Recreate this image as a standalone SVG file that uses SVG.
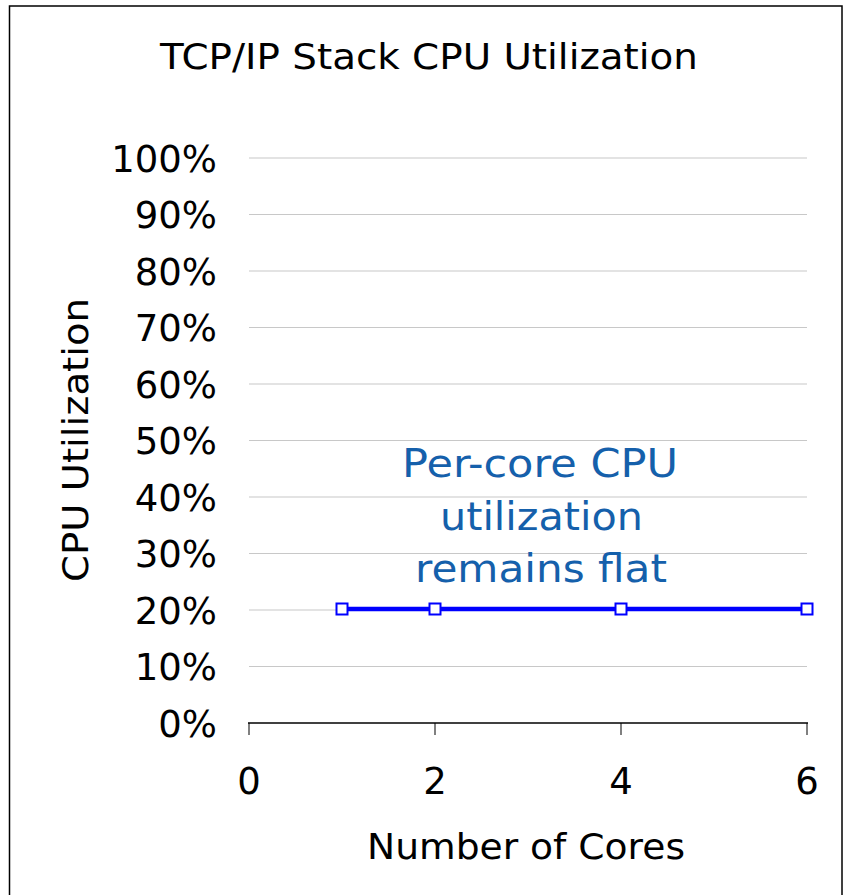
<svg xmlns="http://www.w3.org/2000/svg" width="844" height="895" viewBox="0 0 844 895">
<style>
  text { font-family: "DejaVu Sans", Verdana, sans-serif; fill: #000; }
  .ylab { font-size: 37px; text-anchor: end; }
  .xlab { font-size: 37px; text-anchor: middle; }
  .grid { stroke: #c8c8c8; stroke-width: 1.2; }
  .tick { stroke: #808080; stroke-width: 2; }
  .note { font-size: 39px; fill: #1560ab; text-anchor: middle; }
  .mk { fill: #fff; stroke: #0000ff; stroke-width: 2; }
</style>
<rect x="0" y="0" width="844" height="895" fill="#fff"/>
<rect x="9.5" y="6" width="832.5" height="900" fill="none" stroke="#000" stroke-width="1.5"/>
<g id="title">
  <text x="429" y="69" font-size="35" text-anchor="middle" textLength="538" lengthAdjust="spacingAndGlyphs">TCP/IP Stack CPU Utilization</text>
</g>
<g id="grid">
  <line class="grid" x1="249" y1="158" x2="807" y2="158"/>
  <line class="grid" x1="249" y1="214.5" x2="807" y2="214.5"/>
  <line class="grid" x1="249" y1="271" x2="807" y2="271"/>
  <line class="grid" x1="249" y1="327.5" x2="807" y2="327.5"/>
  <line class="grid" x1="249" y1="384" x2="807" y2="384"/>
  <line class="grid" x1="249" y1="440.5" x2="807" y2="440.5"/>
  <line class="grid" x1="249" y1="497" x2="807" y2="497"/>
  <line class="grid" x1="249" y1="553.5" x2="807" y2="553.5"/>
  <line class="grid" x1="249" y1="610" x2="807" y2="610"/>
  <line class="grid" x1="249" y1="666.5" x2="807" y2="666.5"/>
</g>
<g id="axes">
  <line class="tick" x1="249" y1="723" x2="249" y2="735"/>
  <line class="tick" x1="435" y1="723" x2="435" y2="735"/>
  <line class="tick" x1="621" y1="723" x2="621" y2="735"/>
  <line class="tick" x1="807" y1="723" x2="807" y2="735"/>
  <line x1="248" y1="723" x2="808" y2="723" stroke="#000" stroke-width="1.5"/>
</g>
<g id="y-labels">
  <text class="ylab" x="217" y="171.5">100%</text>
  <text class="ylab" x="217" y="228">90%</text>
  <text class="ylab" x="217" y="284.5">80%</text>
  <text class="ylab" x="217" y="341">70%</text>
  <text class="ylab" x="217" y="397.5">60%</text>
  <text class="ylab" x="217" y="454">50%</text>
  <text class="ylab" x="217" y="510.5">40%</text>
  <text class="ylab" x="217" y="567">30%</text>
  <text class="ylab" x="217" y="623.5">20%</text>
  <text class="ylab" x="217" y="680">10%</text>
  <text class="ylab" x="217" y="736.5">0%</text>
</g>
<g id="x-labels">
  <text class="xlab" x="249" y="794">0</text>
  <text class="xlab" x="435" y="794">2</text>
  <text class="xlab" x="621" y="794">4</text>
  <text class="xlab" x="807" y="794">6</text>
</g>
<g id="axis-titles">
  <text x="526" y="859" font-size="36" text-anchor="middle" textLength="318" lengthAdjust="spacingAndGlyphs">Number of Cores</text>
  <text transform="translate(88,440) rotate(-90)" x="0" y="0" font-size="36" text-anchor="middle" textLength="284" lengthAdjust="spacingAndGlyphs">CPU Utilization</text>
</g>
<g id="series">
  <polyline points="342,609 435,609 621,609 807,609" fill="none" stroke="#0000ff" stroke-width="4.5"/>
  <rect class="mk" x="336.5" y="603.5" width="11" height="11"/>
  <rect class="mk" x="429.5" y="603.5" width="11" height="11"/>
  <rect class="mk" x="615.5" y="603.5" width="11" height="11"/>
  <rect class="mk" x="801.5" y="603.5" width="11" height="11"/>
</g>
<g id="annotation">
  <text class="note" x="540" y="477" textLength="276" lengthAdjust="spacingAndGlyphs">Per-core CPU</text>
  <text class="note" x="541.5" y="530" textLength="203" lengthAdjust="spacingAndGlyphs">utilization</text>
  <text class="note" x="541" y="582" textLength="252" lengthAdjust="spacingAndGlyphs">remains flat</text>
</g>
</svg>
